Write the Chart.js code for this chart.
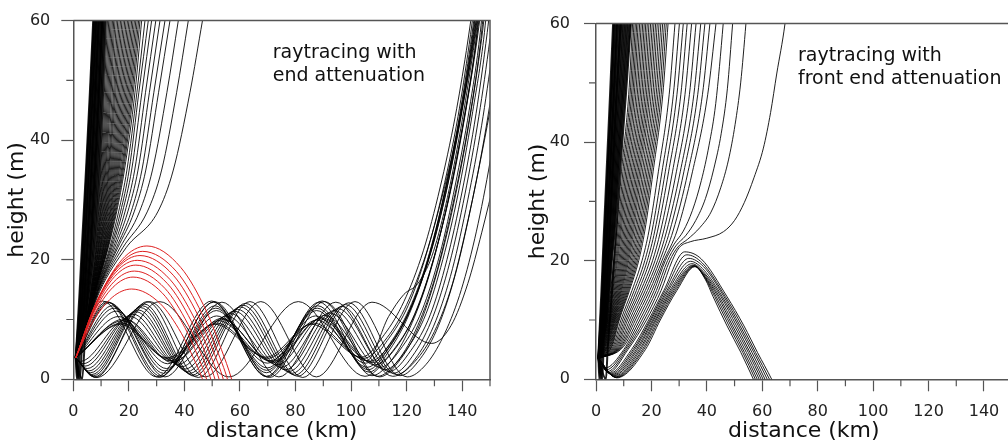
<!DOCTYPE html>
<html>
<head>
<meta charset="utf-8">
<script src="https://cdn.jsdelivr.net/npm/chart.js@4.4.1/dist/chart.umd.min.js"></script>
<style>
  html, body { margin: 0; padding: 0; background: #fff; overflow: hidden; width: 1008px; height: 447px; }
  canvas { position: absolute; top: 0; }
  #left { left: 0; }
  #right { left: 504px; }
</style>
</head>
<body>
<canvas id="left" width="504" height="447"></canvas>
<canvas id="right" width="520" height="447"></canvas>
<script>
// unlabelled ticks between the labelled ones
const xMinorTicks = [10, 30, 50, 70, 90, 110, 130, 150];
const yMinorTicks = [10, 30, 50];

// ---------- left panel: end attenuation ----------
const leftSource = [0.9, 3.6];
// x (km) where each escaping ray crosses these heights (m)
const leftFanLevels = [9, 14.7, 22, 28, 35, 48, 60];
// steepest rays, packed tight enough to read as one black band
const leftCore = [
  [1.6, 2.3, 3.1, 3.8, 4.6, 6.0, 7.2],
  [1.8, 2.6, 3.5, 4.2, 5.0, 6.4, 7.6],
  [2.0, 3.0, 3.9, 4.7, 5.5, 6.8, 8.0],
  [2.2, 3.3, 4.4, 5.1, 5.9, 7.3, 8.4],
  [2.5, 3.6, 4.8, 5.6, 6.4, 7.7, 8.8],
  [2.7, 3.9, 5.2, 6.0, 6.8, 8.1, 9.2],
  [2.9, 4.3, 5.6, 6.4, 7.2, 8.5, 9.6],
  [3.1, 4.6, 6.0, 6.8, 7.6, 8.9, 10.0],
  [3.3, 4.9, 6.4, 7.3, 8.1, 9.3, 10.4],
  [3.5, 5.3, 6.9, 7.7, 8.5, 9.8, 10.8],
  [3.7, 5.6, 7.3, 8.2, 9.0, 10.2, 11.2],
  [4.0, 6.0, 7.8, 8.7, 9.5, 10.7, 11.7]
];
const leftFan = [
  [4.2, 6.3, 8.2, 9.1, 9.9, 11.2, 12.3],
  [4.25, 6.4, 8.35, 9.35, 10.2, 11.6, 12.75],
  [4.3, 6.5, 8.5, 9.6, 10.5, 12.0, 13.2],
  [4.3, 6.55, 8.7, 9.8, 10.8, 12.4, 13.65],
  [4.3, 6.6, 8.9, 10.0, 11.1, 12.8, 14.1],
  [4.35, 6.7, 9.05, 10.25, 11.4, 13.2, 14.55],
  [4.4, 6.8, 9.2, 10.5, 11.7, 13.6, 15.0],
  [4.4, 6.85, 9.4, 10.75, 12.05, 14.05, 15.5],
  [4.4, 6.9, 9.6, 11.0, 12.4, 14.5, 16.0],
  [4.45, 7.0, 9.75, 11.25, 12.7, 14.9, 16.5],
  [4.5, 7.1, 9.9, 11.5, 13.0, 15.3, 17.0],
  [4.5, 7.15, 10.1, 11.75, 13.35, 15.75, 17.5],
  [4.5, 7.2, 10.3, 12.0, 13.7, 16.2, 18.0],
  [4.5, 7.25, 10.5, 12.25, 14.05, 16.65, 18.5],
  [4.5, 7.3, 10.7, 12.5, 14.4, 17.1, 19.0],
  [4.55, 7.4, 10.85, 12.8, 14.75, 17.55, 19.5],
  [4.6, 7.5, 11.0, 13.1, 15.1, 18.0, 20.0],
  [4.6, 7.55, 11.2, 13.35, 15.45, 18.45, 20.5],
  [4.6, 7.6, 11.4, 13.6, 15.8, 18.9, 21.0],
  [4.6, 7.65, 11.55, 13.9, 16.15, 19.35, 21.5],
  [4.6, 7.7, 11.7, 14.2, 16.5, 19.8, 22.0],
  [4.65, 7.75, 11.9, 14.45, 16.9, 20.25, 22.5],
  [4.7, 7.8, 12.1, 14.7, 17.3, 20.7, 23.0],
  [4.7, 7.85, 12.25, 15.0, 17.65, 21.15, 23.5],
  [4.7, 7.9, 12.4, 15.3, 18.0, 21.6, 24.0],
  [4.7, 8.0, 12.6, 15.6, 18.4, 22.2, 24.6],
  [4.7, 8.1, 13.1, 16.3, 19.3, 22.9, 25.8],
  [4.7, 8.2, 13.5, 17.0, 20.1, 23.6, 27.0],
  [4.7, 8.3, 13.9, 17.7, 21.0, 24.7, 28.2],
  [4.8, 8.5, 14.4, 18.6, 22.1, 26.0, 29.7],
  [4.8, 8.6, 14.9, 19.6, 23.3, 27.4, 31.2],
  [4.8, 8.7, 15.5, 20.8, 24.7, 29.0, 33.0],
  [4.8, 8.8, 16.0, 21.9, 26.1, 30.7, 34.8],
  [4.9, 9.0, 16.8, 23.8, 28.5, 33.7, 37.8],
  [4.9, 9.2, 17.8, 26.6, 31.8, 37.2, 41.4],
  [5.0, 9.5, 19.0, 30.4, 36.0, 42.0, 46.5]
];
// steep rays reflected at the ground, [x, y, x, y, ...]
const leftBounce = [
  [0.9, 3.6, 1.3, 0, 2.1, 9, 2.6, 14.7, 3.4, 22, 4.0, 28, 4.8, 35, 6.2, 48, 7.4, 60],
  [0.9, 3.6, 1.8, 0, 2.7, 9, 3.3, 14.7, 4.1, 22, 4.8, 28, 5.6, 35, 7.0, 48, 8.2, 60],
  [0.9, 3.6, 2.4, 0, 3.4, 9, 4.1, 14.7, 5.0, 22, 5.7, 28, 6.5, 35, 7.9, 48, 9.1, 60],
  [0.9, 3.6, 3.2, 0, 4.4, 9, 5.2, 14.7, 6.3, 22, 7.0, 28, 7.8, 35, 9.2, 48, 10.4, 60]
];
// rays trapped in the duct: turning points, then the climb out
const leftDuct = [
  [0.9, 3.6, 17.4, 9.4, 34.2, 3.4, 51.6, 9.4, 70, 3.5, 86.5, 9.4, 104.5, 3.5, 113, 7, 120, 12.5, 127, 21, 133, 31, 138.5, 42, 143, 53, 146, 62],
  [0.9, 3.6, 17.8, 9.8, 34.8, 3.1, 52.4, 9.8, 70.8, 3.1, 87.6, 9.9, 105.6, 3.1, 113.5, 10.5, 119, 14.2, 124, 16, 129, 20.5, 134, 29, 139.5, 42, 144, 55, 146.5, 63],
  [0.9, 3.6, 17.0, 9.2, 33.8, 3.6, 51.0, 9.2, 69.4, 3.7, 85.8, 9.2, 103.8, 3.7, 112, 7.5, 119, 13, 126, 21.5, 132, 32, 137.5, 44, 141.5, 55, 144, 63],
  [0.9, 3.6, 18.4, 10.1, 35.6, 2.8, 53.4, 10.2, 72, 2.8, 89.4, 10.3, 107.6, 2.8, 116, 7, 123, 13.5, 129.5, 22.5, 135, 33, 140, 45, 144.5, 58, 146, 63],
  [0.9, 3.6, 2.5, 3.0, 19, 10, 36.4, 3.0, 53.8, 10.0, 71.8, 3.0, 88.8, 10.1, 106.8, 3.0, 115, 6.5, 122, 12.5, 128.5, 21, 134.5, 32, 140, 45.5, 145, 60, 146, 63],
  [0.9, 3.6, 3.5, 2.6, 20.5, 10.5, 37.8, 2.5, 55.2, 10.6, 73.4, 2.4, 90.6, 10.7, 108.6, 2.4, 117, 6, 124, 12, 130.5, 21.5, 136.5, 33, 141.5, 45.5, 146, 59, 147, 63],
  [0.9, 3.6, 4.2, 2.2, 21.5, 10.9, 39, 2.1, 56.6, 11.0, 74.9, 2.0, 92.3, 11.1, 110.4, 2.0, 118.5, 5.5, 125.5, 11.5, 132, 21, 137.5, 32.5, 142.5, 45, 146.5, 58, 147.5, 63],
  [0.9, 3.6, 5.0, 1.8, 22.6, 11.3, 40.2, 1.7, 58.0, 11.4, 76.4, 1.6, 94.0, 11.5, 112.2, 1.6, 120, 5, 127, 11, 133, 20, 138.5, 31, 143.5, 44, 148, 58, 149, 63],
  [0.9, 3.6, 5.6, 1.4, 23.4, 11.6, 41.1, 1.3, 59.1, 11.7, 77.6, 1.3, 95.4, 11.8, 113.7, 1.3, 121.5, 4.8, 128.5, 10.8, 134.5, 20, 140, 31.5, 145, 44.5, 149, 58, 150, 62],
  [0.9, 3.6, 6.2, 1.1, 24.2, 12.0, 42.0, 1.0, 60.2, 12.1, 78.8, 1.0, 96.8, 12.2, 115.2, 1.0, 123, 4.5, 129.5, 10.5, 135.5, 19.5, 141, 31, 146, 44, 150, 57, 151, 61],
  [0.9, 3.6, 6.7, 0.8, 24.9, 12.3, 42.8, 0.7, 61.1, 12.4, 79.8, 0.7, 98.0, 12.5, 116.4, 0.8, 124, 4, 130.5, 9.8, 136.5, 18.5, 142, 30, 147, 42.5, 151, 55],
  [0.9, 3.6, 7.2, 0.6, 25.5, 12.6, 43.6, 0.5, 62.0, 12.7, 80.8, 0.5, 99.2, 12.8, 117.6, 0.6, 125, 3.5, 131.5, 9, 137.5, 17.5, 143, 28.5, 148, 40.5, 152, 52],
  [0.9, 3.6, 8.0, 0.3, 26.6, 13.0, 45.0, 0.3, 63.6, 13.0, 82.6, 0.3, 101.4, 13.0, 120.2, 0.4, 127, 2.5, 133, 7, 139, 14, 144.5, 23.5, 149.5, 35, 153, 45],
  [0.9, 3.6, 10.5, 13.1, 30, 0.4, 49.8, 13.1, 69.8, 0.4, 89.6, 13.1, 109.5, 0.5, 117, 3.2, 124, 9, 130.5, 17.5, 136.5, 29, 142, 42, 146.5, 56, 148, 63],
  [0.9, 3.6, 12.5, 12.9, 31.5, 0.5, 50.5, 12.9, 69.5, 0.5, 88.5, 12.9, 107.5, 0.6, 115, 3.5, 122, 9.5, 128.5, 18, 134.5, 29, 140, 42, 144.5, 55, 146.5, 63],
  [0.9, 3.6, 14.0, 12.3, 32.5, 1.0, 51.0, 12.3, 69.5, 1.1, 88.0, 12.3, 106.5, 1.2, 114, 5, 121, 11, 127.5, 19.5, 133.5, 30.5, 139, 43, 143.5, 56, 145.5, 63],
  [0.9, 3.6, 14.7, 11.9, 33, 1.4, 51.3, 11.9, 69.6, 1.5, 87.8, 11.9, 106.2, 1.6, 114, 5.5, 121, 11.4, 127.5, 19.8, 133.5, 30.8, 139, 43.5, 143.3, 56, 145.3, 63],
  [0.9, 3.6, 15.5, 11.4, 33.5, 1.8, 51.5, 11.5, 69.8, 1.9, 87.6, 11.5, 105.8, 2.0, 114, 6, 121, 11.8, 127.5, 20, 133.5, 31, 139, 44, 143, 56, 145, 63],
  [0.9, 3.6, 16.3, 10.5, 34, 2.6, 51.6, 10.6, 69.9, 2.7, 87.2, 10.6, 105.2, 2.7, 113.5, 6.8, 120.5, 12.3, 127, 20.8, 133, 31.5, 138.5, 44, 142.5, 56, 144.5, 63],
  [0.9, 3.6, 12.0, 13.0, 31.0, 0.3, 50.8, 13.0, 70.6, 0.3, 90.4, 13.0, 110.2, 0.4, 118, 3.5, 125, 9.5, 131, 18, 137, 29.5, 142.5, 43, 147, 57, 148.5, 63],
  [0.9, 3.6, 13.0, 12.8, 33.0, 0.4, 53.5, 12.9, 74, 0.4, 94.5, 12.9, 115, 0.5, 123, 3, 130, 8, 136.5, 16, 142.5, 27.5, 148, 40, 152, 50],
  [0.9, 3.6, 7.5, 0.4, 27.5, 13.0, 47.5, 0.4, 67.5, 13.0, 87.5, 0.4, 107.5, 12.9, 129, 6, 136, 9, 142, 16, 147, 24.5, 152, 34],
  [0.9, 3.6, 8.5, 0.3, 31, 13, 56, 0.4, 81, 13, 105, 0.5, 113, 3.5, 121, 9, 128, 17.5, 134, 28, 139.5, 40.5, 144, 53, 146.5, 62]
];
// rays that top out above the duct and come back down to the ground
const leftRed = [
  [0.9, 3.6, 8.6, 13.1, 17.5, 20.0, 26.5, 22.3, 38.7, 18.7, 47.9, 11.4, 53.3, 5.0, 57, 0, 57.8, -1.5],
  [0.9, 3.6, 8.1, 12.7, 16.6, 19.2, 25, 21.4, 37.2, 18.0, 46.4, 10.9, 51.8, 4.8, 55.5, 0, 56.3, -1.5],
  [0.9, 3.6, 7.8, 12.3, 15.9, 18.6, 24, 20.7, 36, 17.4, 45, 10.6, 50.4, 4.7, 54, 0, 54.8, -1.5],
  [0.9, 3.6, 7.5, 11.9, 15.3, 17.9, 23, 19.9, 34.8, 16.7, 43.7, 10.1, 49, 4.5, 52.5, 0, 53.3, -1.5],
  [0.9, 3.6, 7.4, 11.5, 14.9, 17.2, 22.5, 19.1, 33.9, 16.0, 42.5, 9.7, 47.6, 4.3, 51, 0, 51.8, -1.5],
  [0.9, 3.6, 7.2, 11.0, 14.6, 16.3, 22, 18.1, 33, 15.2, 41.3, 9.2, 46.2, 4.1, 49.5, 0, 50.3, -1.5],
  [0.9, 3.6, 7.1, 10.5, 14.3, 15.4, 21.5, 17.1, 32.1, 14.4, 40.1, 8.7, 44.8, 3.9, 48, 0, 48.8, -1.5],
  [0.9, 3.6, 6.9, 9.5, 14, 13.7, 21, 15.1, 31.2, 12.7, 38.9, 7.7, 43.4, 3.4, 46.5, 0, 47.3, -1.5]
];

// ---------- right panel: front end attenuation ----------
const rightSource = [0.9, 3.5];
const rightFanLevels = [5.5, 10, 15, 20, 25, 35, 48, 60];
const rightCore = [
  [1.05, 1.5, 2.0, 2.45, 2.9, 3.85, 5.1, 6.2],
  [1.1, 1.7, 2.3, 2.7, 3.2, 4.2, 5.6, 6.75],
  [1.15, 1.9, 2.5, 3.0, 3.6, 4.6, 6.0, 7.3],
  [1.2, 2.1, 2.8, 3.3, 3.9, 5.0, 6.5, 7.85],
  [1.3, 2.4, 3.0, 3.6, 4.3, 5.4, 7.0, 8.4],
  [1.35, 2.6, 3.3, 3.9, 4.6, 5.8, 7.4, 8.95],
  [1.4, 2.8, 3.6, 4.2, 5.0, 6.2, 8.0, 9.5],
  [1.5, 3.0, 3.9, 4.5, 5.3, 6.6, 8.4, 10.05],
  [1.55, 3.3, 4.1, 4.8, 5.7, 7.0, 8.9, 10.6],
  [1.6, 3.5, 4.4, 5.1, 6.0, 7.4, 9.4, 11.15],
  [1.7, 3.7, 4.6, 5.4, 6.4, 7.8, 9.8, 11.7],
  [1.75, 3.9, 4.9, 5.7, 6.7, 8.2, 10.3, 12.3]
];
const rightFan = [
  [1.85, 4.1, 5.3, 6.4, 7.5, 9.2, 11.8, 13.2],
  [1.95, 4.25, 5.55, 6.75, 7.9, 9.7, 12.3, 13.7],
  [2.05, 4.4, 5.8, 7.1, 8.3, 10.2, 12.8, 14.2],
  [2.15, 4.55, 6.05, 7.45, 8.7, 10.7, 13.3, 14.7],
  [2.25, 4.7, 6.3, 7.8, 9.1, 11.2, 13.8, 15.2],
  [2.4, 4.85, 6.6, 8.2, 9.55, 11.7, 14.35, 15.75],
  [2.55, 5.0, 6.9, 8.6, 10.0, 12.2, 14.9, 16.3],
  [2.7, 5.15, 7.2, 9.0, 10.45, 12.7, 15.45, 16.85],
  [2.85, 5.3, 7.5, 9.4, 10.9, 13.2, 16.0, 17.4],
  [3.0, 5.5, 7.8, 9.8, 11.35, 13.7, 16.55, 17.95],
  [3.15, 5.7, 8.1, 10.2, 11.8, 14.2, 17.1, 18.5],
  [3.3, 5.9, 8.4, 10.6, 12.25, 14.7, 17.65, 19.1],
  [3.5, 6.1, 8.7, 11.0, 12.7, 15.2, 18.2, 19.7],
  [3.7, 6.3, 9.0, 11.4, 13.15, 15.7, 18.75, 20.3],
  [3.9, 6.5, 9.3, 11.8, 13.6, 16.2, 19.3, 20.9],
  [4.1, 6.7, 9.65, 12.25, 14.1, 16.75, 19.9, 21.5],
  [4.3, 6.9, 10.0, 12.7, 14.6, 17.3, 20.5, 22.1],
  [4.55, 7.15, 10.35, 13.15, 15.1, 17.85, 21.1, 22.75],
  [4.8, 7.4, 10.7, 13.6, 15.6, 18.4, 21.7, 23.4],
  [5.05, 7.65, 11.05, 14.05, 16.1, 18.95, 22.3, 24.05],
  [5.3, 7.9, 11.4, 14.5, 16.6, 19.5, 22.9, 24.7],
  [5.55, 8.15, 11.75, 14.95, 17.1, 20.05, 23.5, 25.35],
  [5.8, 8.4, 12.1, 15.4, 17.6, 20.6, 24.1, 26.0],
  [6.2, 9.0, 13.0, 16.6, 19.1, 22.5, 26.4, 28.5],
  [6.6, 9.6, 13.8, 17.6, 20.2, 23.8, 27.9, 30.1],
  [7.0, 10.2, 14.6, 18.5, 21.2, 25.0, 29.2, 31.5],
  [7.4, 10.8, 15.4, 19.4, 22.2, 26.2, 30.6, 32.9],
  [7.8, 11.4, 16.2, 20.4, 23.3, 27.6, 32.1, 34.5],
  [8.2, 12.1, 17.0, 21.3, 24.4, 29.0, 33.7, 36.1],
  [8.6, 12.8, 17.8, 22.2, 25.5, 30.4, 35.3, 37.8],
  [9.0, 13.5, 18.6, 23.0, 26.6, 31.7, 36.7, 39.3],
  [9.4, 14.2, 19.4, 23.8, 27.8, 33.2, 38.4, 41.1],
  [9.9, 15.0, 20.2, 24.5, 29.2, 34.8, 40.3, 43.3]
];
const rightBounce = [
  [0.9, 3.5, 1.2, 0, 1.8, 10, 2.3, 15, 2.8, 20, 3.2, 25, 4.2, 35, 5.4, 48, 6.5, 60],
  [0.9, 3.5, 1.8, 0, 2.4, 10, 3.0, 15, 3.5, 20, 4.0, 25, 5.1, 35, 6.4, 48, 7.6, 60],
  [0.9, 3.5, 2.3, 0, 3.0, 10, 3.7, 15, 4.3, 20, 4.9, 25, 6.0, 35, 7.5, 48, 8.9, 60],
  [0.9, 3.5, 3.6, 0, 4.2, 5, 5.0, 10, 5.8, 15, 6.5, 20, 7.3, 25, 8.7, 35, 10.8, 48, 12.6, 60]
];
// launched downward: a dip near the ground, then over the knee and away
const rightLow = [
  [0.9, 3.5, 4.5, 1.1, 11.5, 5, 18.2, 10, 23.5, 15, 27.5, 20, 30, 22.2, 34, 23.2, 40, 23.8, 46, 24.9, 50, 26.8, 53.5, 29.8, 57, 34, 60.4, 39, 63, 45, 65.2, 51.5, 68.2, 60, 68.9, 63],
  [0.9, 3.5, 4.1, 1.3, 11, 5, 17.4, 10, 22.6, 15, 26.6, 20, 29.5, 22.3, 33, 23.6, 37.5, 25.6, 41.5, 28.2, 45, 32.3, 47.8, 37, 50.2, 43, 52.2, 50, 54.1, 60, 54.6, 63],
  [0.9, 3.5, 3.7, 1.6, 10.5, 5, 16.6, 10, 21.8, 15, 25.8, 20, 28.8, 22.5, 32.3, 24.2, 36, 26.8, 39.5, 30.5, 42.5, 35.5, 45.2, 41.5, 47.4, 49, 49.3, 60, 49.8, 63],
  [0.9, 3.5, 3.3, 1.9, 10, 5, 15.8, 10, 21, 15, 25, 20, 28.2, 22.8, 31.5, 25, 34.8, 28.5, 38, 33.5, 40.8, 39.5, 43.2, 46.5, 45.9, 60, 46.4, 63]
];
// rays that turn over near 20 m and fall back to the ground
const rightHump = [
  [0.9, 3.5, 4.9, 1.0, 12.8, 5, 19.0, 10, 24.5, 15, 32.0, 21.5, 38.0, 20.3, 47.2, 14, 53.4, 9, 58.3, 4.5, 63.4, 0, 64.4, -1],
  [0.9, 3.5, 5.3, 0.9, 13.4, 5, 19.5, 10, 25.0, 15, 32.8, 21.0, 38.4, 19.6, 46.6, 14, 52.7, 9, 57.6, 4.5, 62.6, 0, 63.6, -1],
  [0.9, 3.5, 5.7, 0.8, 13.9, 5, 19.9, 10, 25.6, 15, 33.5, 20.4, 38.8, 19.0, 46.1, 14, 52.0, 9, 57.0, 4.5, 61.8, 0, 62.8, -1],
  [0.9, 3.5, 6.0, 0.7, 14.5, 5, 20.4, 10, 26.1, 15, 34.1, 19.9, 39.0, 18.4, 45.5, 14, 51.4, 9, 56.3, 4.5, 61.0, 0, 62.0, -1],
  [0.9, 3.5, 6.3, 0.6, 15.0, 5, 20.8, 10, 26.7, 15, 34.6, 19.5, 39.2, 17.9, 45.0, 14, 50.7, 9, 55.6, 4.5, 60.3, 0, 61.3, -1],
  [0.9, 3.5, 6.6, 0.5, 15.6, 5, 21.3, 10, 27.2, 15, 35.0, 19.25, 39.3, 17.6, 44.4, 14, 50.0, 9, 55.0, 4.5, 59.6, 0, 60.6, -1],
  [0.9, 3.5, 6.9, 0.4, 16.1, 5, 21.7, 10, 27.7, 15, 35.3, 19.15, 39.4, 17.3, 43.9, 14, 49.3, 9, 54.3, 4.5, 58.9, 0, 59.9, -1],
  [0.9, 3.5, 7.1, 0.35, 16.7, 5, 22.2, 10, 28.2, 15, 35.5, 19.1, 39.5, 17.1, 43.3, 14, 48.7, 9, 53.6, 4.5, 58.2, 0, 59.2, -1],
  [0.9, 3.5, 7.3, 0.3, 17.2, 5, 22.7, 10, 28.7, 15, 35.6, 19.05, 39.5, 16.95, 42.8, 14, 48.0, 9, 53.0, 4.5, 57.5, 0, 58.5, -1],
  [0.9, 3.5, 7.5, 0.25, 17.8, 5, 23.2, 10, 29.2, 15, 35.7, 19.0, 39.5, 16.8, 42.2, 14, 47.3, 9, 52.3, 4.5, 56.8, 0, 57.8, -1]
];

const leftNote = ['raytracing with', 'end attenuation'];
const rightNote = ['raytracing with', 'front end attenuation'];

const FONT = '"DejaVu Sans", sans-serif';
const INK = 'rgba(0,0,0,0.88)';
const RED = 'rgb(222,32,32)';
const AXIS = '#555';

function pairs(flat) {
  const pts = [];
  for (let i = 0; i < flat.length; i += 2) pts.push({ x: flat[i], y: flat[i + 1] });
  return pts;
}

function fanRay(source, levels, row) {
  return [{ x: source[0], y: source[1] }].concat(row.map((x, i) => ({ x: x, y: levels[i] })));
}

function ray(points, color, width) {
  return {
    data: points,
    borderColor: color,
    borderWidth: width || 1,
    pointRadius: 0,
    fill: false,
    cubicInterpolationMode: 'monotone'
  };
}

// top/right frame, minor ticks and the text note
const framePlugin = {
  id: 'frame',
  afterDraw(chart, args, opts) {
    const { ctx, chartArea: a } = chart;
    const xs = chart.scales.x, ys = chart.scales.y;
    ctx.save();
    ctx.strokeStyle = AXIS;
    ctx.lineWidth = 1.5;
    ctx.beginPath();
    ctx.moveTo(a.left, a.top);
    ctx.lineTo(a.right, a.top);
    ctx.lineTo(a.right, a.bottom);
    ctx.stroke();

    ctx.lineWidth = 1.2;
    ctx.beginPath();
    xMinorTicks.forEach(v => {
      const px = xs.getPixelForValue(v);
      ctx.moveTo(px, a.bottom);
      ctx.lineTo(px, a.bottom + 7);
    });
    yMinorTicks.forEach(v => {
      const py = ys.getPixelForValue(v);
      ctx.moveTo(a.left, py);
      ctx.lineTo(a.left - 7, py);
    });
    ctx.stroke();

    ctx.fillStyle = '#111';
    ctx.font = '19px ' + FONT;
    ctx.textBaseline = 'middle';
    const nx = xs.getPixelForValue(opts.x);
    const ny = ys.getPixelForValue(opts.y);
    opts.lines.forEach((t, i) => ctx.fillText(t, nx, ny + i * 23));
    ctx.restore();
  }
};

function makeChart(id, datasets, cfg) {
  return new Chart(document.getElementById(id), {
    type: 'line',
    data: { datasets: datasets },
    plugins: [framePlugin],
    options: {
      responsive: false,
      animation: false,
      events: [],
      layout: { padding: { top: 14, right: cfg.padRight, left: 0, bottom: 0 } },
      plugins: {
        legend: { display: false },
        tooltip: { enabled: false },
        frame: cfg.note
      },
      scales: {
        x: {
          type: 'linear',
          min: 0,
          max: 150,
          afterFit: (s) => { s.height = 67.7; },
          grid: { drawOnChartArea: false, drawTicks: true, tickLength: 12, tickColor: AXIS, tickWidth: 1.2 },
          border: { display: true, color: AXIS, width: 1.5 },
          ticks: { stepSize: 20, includeBounds: false, padding: 11, color: '#222', font: { family: FONT, size: 16 } },
          title: { display: true, text: 'distance (km)', color: '#111', font: { family: FONT, size: 22 }, padding: { top: 0, bottom: 3 } }
        },
        y: {
          type: 'linear',
          min: 0,
          max: 60,
          afterFit: (s) => { s.width = cfg.yWidth; },
          grid: { drawOnChartArea: false, drawTicks: true, tickLength: 12, tickColor: AXIS, tickWidth: 1.2 },
          border: { display: true, color: AXIS, width: 1.5 },
          ticks: { stepSize: 20, includeBounds: false, padding: cfg.yTickPad, color: '#222', font: { family: FONT, size: 16 } },
          title: { display: true, text: 'height (m)', color: '#111', font: { family: FONT, size: 22 }, padding: { top: cfg.yTitlePad, bottom: 0 } }
        }
      }
    }
  });
}

// dataset 0 is painted last, so the red rays go first to sit on top
const leftSets = []
  .concat(leftRed.map(r => ray(pairs(r), RED)))
  .concat(leftDuct.map(r => ray(pairs(r), INK)))
  .concat(leftBounce.map(r => ray(pairs(r), INK, 2)))
  .concat(leftCore.map(r => ray(fanRay(leftSource, leftFanLevels, r), INK, 2.2)))
  .concat(leftFan.map(r => ray(fanRay(leftSource, leftFanLevels, r), INK)));

const rightSets = []
  .concat(rightHump.map(r => ray(pairs(r), INK)))
  .concat(rightLow.map(r => ray(pairs(r), INK)))
  .concat(rightBounce.map(r => ray(pairs(r), INK, 2)))
  .concat(rightCore.map(r => ray(fanRay(rightSource, rightFanLevels, r), INK, 2.2)))
  .concat(rightFan.map(r => ray(fanRay(rightSource, rightFanLevels, r), INK)));

makeChart('left', leftSets, {
  padRight: 14, yWidth: 73.3, yTickPad: 11, yTitlePad: 4,
  note: { lines: leftNote, x: 71.8, y: 54.6 }
});
makeChart('right', rightSets, {
  padRight: 12.3, yWidth: 92, yTickPad: 14, yTitlePad: 21,
  note: { lines: rightNote, x: 72.9, y: 54.6 }
});
</script>
</body>
</html>
